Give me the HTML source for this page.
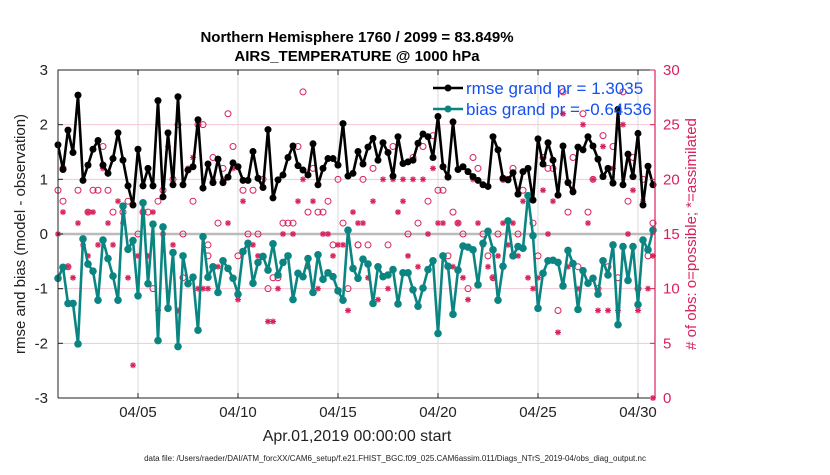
<!DOCTYPE html>
<html><head><meta charset="utf-8"><style>
body{margin:0;background:#fff;width:830px;height:470px;overflow:hidden;font-family:"Liberation Sans",sans-serif}
</style></head><body>
<svg id="c" width="830" height="470" xmlns="http://www.w3.org/2000/svg" font-family="Liberation Sans, sans-serif"></svg>
<script>
const rmse=[1.63,1.18,1.90,1.49,2.54,0.98,1.26,1.55,1.71,1.26,1.11,1.38,1.85,1.35,0.88,0.53,1.55,0.88,1.20,0.88,2.44,0.68,1.85,0.90,2.51,0.90,1.17,1.23,2.09,0.84,1.28,
0.94,1.37,0.94,1.04,1.30,1.23,0.98,0.98,1.51,1.02,0.85,1.91,0.66,0.99,1.08,1.40,1.61,1.25,1.17,1.08,1.65,0.90,1.20,1.38,1.38,1.26,2.02,1.06,
1.11,1.51,1.28,1.59,1.75,1.35,1.67,1.49,1.06,1.78,1.29,1.32,1.35,1.66,1.83,1.78,1.40,2.15,1.23,1.04,2.05,1.18,1.23,1.14,1.05,0.98,0.90,0.87,1.78,1.54,1.02,
0.99,1.12,0.73,1.14,1.20,0.62,1.74,1.28,1.67,1.35,0.71,1.61,0.94,0.77,1.59,1.54,1.78,1.61,1.37,1.05,1.20,0.93,2.28,0.90,1.46,1.05,1.84,0.53,1.24,0.90];
const bias=[-0.81,-0.61,-1.27,-1.27,-2.01,-0.09,-0.55,-0.68,-1.21,-0.11,-0.45,-0.77,-1.21,0.51,-0.28,-0.12,-1.13,0.57,-0.91,0.18,-1.95,0.13,-1.36,-0.34,-2.06,-0.40,-0.91,-0.79,-1.76,-0.05,-0.79,
-0.60,-1.07,-0.49,-0.63,-0.81,-1.10,-0.32,-0.17,-0.90,-0.52,-0.41,-0.66,-0.18,-0.75,-0.52,-0.40,-1.20,-0.72,-0.78,-0.45,-1.07,-0.38,-0.83,-0.71,-0.78,-1.04,-1.21,0.07,-0.63,-0.81,
-0.46,-0.55,-1.27,-0.60,-0.78,-0.75,-0.65,-1.28,-0.71,-0.71,-1.02,-1.32,-0.99,-0.65,-0.49,-1.82,-0.40,-0.59,-1.47,-0.66,-0.22,-0.24,-0.29,-0.93,-0.17,0.05,-0.29,-1.21,-0.59,
0.24,-0.40,-0.23,-0.26,0.70,-0.03,-1.36,-0.72,-0.49,-0.48,-0.52,-0.95,-0.30,-0.54,-1.38,-0.67,-0.90,-0.81,-1.10,-0.49,-0.75,-0.20,-1.66,-0.23,-0.85,-0.23,-1.29,-0.11,-0.29,0.07];
const possIdx=[0,1,4,7,8,10,6,11,13,14,9,1,16,17,18,20,21,23,19,24,2,25,27,29,25,28,30,
30,31,32,33,34,35,36,37,38,39,40,41,42,43,44,45,46,47,48,49,50,51,52,53,54,55,56,57,58,60,
60,61,62,63,64,66,67,70,71,72,73,74,75,76,77,78,79,80,81,82,83,84,85,86,87,88,89,
90,91,92,93,95,96,97,98,99,100,101,102,103,104,105,106,107,108,109,110,111,112,113,114,115,116,117,118,119];
const possVal=[19,18,19,19,19,19,17,17,17,18,23,21,15,17,17,18,19,20,10,25,12,11,18,25,15,25,14,
13,22,16,21,26,23,13,19,15,19,15,20,10,11,11,16,16,16,23,28,17,21,17,17,18,14,20,16,10,14,
14,20,14,21,12,14,23,15,22,16,23,18,24,19,19,13,17,16,15,10,22,21,15,13,11,15,20,
20,21,15,19,16,13,22,21,21,8,28,17,22,12,26,17,20,10,24,12,23,11,28,18,22,10,20,13,16];
const asmIdx=[0,1,4,6,7,10,12,13,5,6,8,11,2,3,14,9,15,16,17,18,19,21,22,20,24,23,25,26,27,29,28,30,
31,32,33,34,35,36,37,38,39,40,41,42,43,44,45,46,47,48,49,50,51,52,53,54,55,56,57,58,59,60,
61,62,63,64,65,66,67,68,69,69,70,71,72,73,74,75,76,77,78,79,80,81,82,83,84,85,86,87,88,89,
90,91,92,93,94,95,96,97,98,99,100,101,102,103,104,105,106,107,108,109,110,111,112,113,114,115,116,117,118,119,119];
const asmVal=[15,17,16,17,17,16,18,16,14,13,14,14,12,11,11,21,3,13,17,13,17,15,23,8,8,14,13,21,22,10,10,10,
20,12,20,16,21,9,18,14,14,13,13,7,7,10,15,13,15,18,20,12,18,10,15,15,13,14,14,8,17,16,
16,11,18,9,20,10,20,17,18,20,13,20,12,20,15,21,16,16,12,12,16,11,9,20,16,14,12,11,13,16,
14,16,13,18,11,10,11,19,15,18,6,26,12,19,10,25,16,20,8,23,8,21,8,25,15,19,8,18,10,13,0];
const yTicks=[3,2,1,0,-1,-2,-3];
const rTicks=[0,5,10,15,20,25,30];
const xTicks=[5,10,15,20,25,30];
const xTickLabels=['04/05','04/10','04/15','04/20','04/25','04/30'];

const S=document.getElementById('c'),NS='http://www.w3.org/2000/svg';
const L=58,R=655,T=70,B=398;
const xs=d=>58+(d-1)*20;
const xi=i=>xs(1+i*0.25);
const yl=v=>T+(3-v)/6*(B-T);
const yr=v=>B-v/30*(B-T);
function el(t,a,txt){const e=document.createElementNS(NS,t);for(const k in a)e.setAttribute(k,a[k]);if(txt!=null)e.textContent=txt;S.appendChild(e);return e;}

for(const v of rTicks){if(v===0||v===30||v===15)continue;const g=el('line',{x1:L,x2:R,y1:yr(v),y2:yr(v),stroke:'#f4c6d6','stroke-width':1});

}
for(const d of xTicks){const g=el('line',{x1:xs(d),x2:xs(d),y1:T,y2:B,stroke:'#d8d8d8','stroke-width':1});

}
const z=el('line',{x1:L,x2:R,y1:yl(0),y2:yl(0),stroke:'#bbb','stroke-width':2.5});



possIdx.forEach((ix,k)=>{const c=el('circle',{cx:xi(ix),cy:yr(possVal[k]),r:3,fill:'none',stroke:'#d8215a','stroke-width':1});

});
asmIdx.forEach((ix,k)=>{const x=xi(ix),y=yr(asmVal[k]);const g=el('path',{d:`M${x-3},${y}H${x+3}M${x},${y-3}V${y+3}M${x-2.2},${y-2.2}L${x+2.2},${y+2.2}M${x-2.2},${y+2.2}L${x+2.2},${y-2.2}`,stroke:'#d8215a','stroke-width':1.2});

});

function series(arr,col,name,r){const p=el('polyline',{points:arr.map((v,i)=>xi(i)+','+yl(v)).join(' '),fill:'none',stroke:col,'stroke-width':2.6,'stroke-linejoin':'round'});


arr.forEach((v,i)=>{const c=el('circle',{cx:xi(i),cy:yl(v),r:r,fill:col});

});}
series(bias,'#0b8582','bias',3.8);
series(rmse,'#000','rmse',3.5);

const ax=el('path',{d:`M${L},${B}V${T}H${R}`,fill:'none',stroke:'#222','stroke-width':1});


const bx=el('line',{x1:L,x2:R,y1:B,y2:B,stroke:'#222'});


const ra=el('line',{x1:R,x2:R,y1:T,y2:B,stroke:'#d8215a','stroke-width':1.2});



for(const v of yTicks){el('line',{x1:L,x2:L+5,y1:yl(v),y2:yl(v),stroke:'#222'});
const t=el('text',{x:L-10,y:yl(v)+5,'text-anchor':'end','font-size':15,fill:'#222'},String(v));

}
for(const v of rTicks){el('line',{x1:R-5,x2:R,y1:yr(v),y2:yr(v),stroke:'#d8215a'});
const t=el('text',{x:R+8,y:yr(v)+5,'font-size':15,fill:'#d8215a'},v);

}
xTicks.forEach((d,k)=>{el('line',{x1:xs(d),x2:xs(d),y1:B,y2:B-5,stroke:'#222'});el('line',{x1:xs(d),x2:xs(d),y1:T,y2:T+5,stroke:'#222'});
const t=el('text',{x:xs(d),y:417,'text-anchor':'middle','font-size':15,fill:'#222'},xTickLabels[k]);

});

let t=el('text',{x:357,y:42,'text-anchor':'middle','font-size':15,'font-weight':'bold',fill:'#000'},'Northern Hemisphere 1760 / 2099 = 83.849%');


t=el('text',{x:357,y:61,'text-anchor':'middle','font-size':15,'font-weight':'bold',fill:'#000'},'AIRS_TEMPERATURE @ 1000 hPa');


t=el('text',{x:357,y:441,'text-anchor':'middle','font-size':16,fill:'#222'},'Apr.01,2019 00:00:00 start');


t=el('text',{x:0,y:0,transform:'translate(25,234) rotate(-90)','text-anchor':'middle','font-size':15,fill:'#222'},'rmse and bias (model - observation)');


t=el('text',{x:0,y:0,transform:'translate(696,234) rotate(-90)','text-anchor':'middle','font-size':15,fill:'#d8215a'},'# of obs: o=possible; *=assimilated');


t=el('text',{x:395,y:461,'text-anchor':'middle','font-size':8,fill:'#222'},'data file: /Users/raeder/DAI/ATM_forcXX/CAM6_setup/f.e21.FHIST_BGC.f09_025.CAM6assim.011/Diags_NTrS_2019-04/obs_diag_output.nc');



[[88,'#000','rmse grand pr = 1.3035','legend-entry-rmse'],[109,'#0b8582','bias grand pr = -0.64536','legend-entry-bias']].forEach(([y,c,s,n])=>{
el('line',{x1:433,x2:463,y1:y,y2:y,stroke:c,'stroke-width':2.6});el('circle',{cx:448,cy:y,r:3.5,fill:c});
const tt=el('text',{x:466,y:y+6,'font-size':17,fill:'#1550f0'},s);

});
</script>
</body></html>
